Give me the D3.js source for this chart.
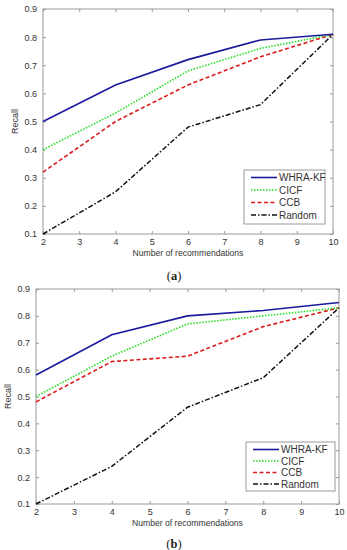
<!DOCTYPE html>
<html>
<head>
<meta charset="utf-8">
<script src="https://cdn.jsdelivr.net/npm/d3@7"></script>
<style>
  body { margin: 0; background: #fff; }
  svg text { font-family: "Liberation Sans", Arial, sans-serif; fill: #333; }
</style>
</head>
<body>
<svg id="chart" width="347" height="550"></svg>
<script>
var recs = [2, 4, 6, 8, 10];
var xTicks = [2, 3, 4, 5, 6, 7, 8, 9, 10];
var yTicks = [0.1, 0.2, 0.3, 0.4, 0.5, 0.6, 0.7, 0.8, 0.9];
var methods = ["WHRA-KF", "CICF", "CCB", "Random"];

// panel (a)
var whraA = [0.50, 0.63, 0.72, 0.79, 0.81];
var cicfA = [0.40, 0.53, 0.68, 0.76, 0.81];
var ccbA = [0.32, 0.50, 0.63, 0.73, 0.81];
var randomA = [0.10, 0.25, 0.48, 0.56, 0.81];

// panel (b)
var whraB = [0.58, 0.73, 0.80, 0.82, 0.85];
var cicfB = [0.50, 0.65, 0.77, 0.80, 0.83];
var ccbB = [0.48, 0.63, 0.65, 0.76, 0.83];
var randomB = [0.10, 0.24, 0.46, 0.57, 0.83];

var styles = {
  "WHRA-KF": { color: "#1a1a9c", dash: null, width: 1.6 },
  "CICF": { color: "#22e022", dash: "1.5,1.5", width: 1.6 },
  "CCB": { color: "#dd1a1a", dash: "4,2.5", width: 1.6 },
  "Random": { color: "#111", dash: "5,2,1.5,2", width: 1.5 }
};

var svg = d3.select("#chart");

function drawPanel(p) {
  var x = d3.scaleLinear().domain([2, 10]).range([p.left, p.right]);
  var y = d3.scaleLinear().domain([0.1, 0.9]).range([p.bottom, p.top]);
  var g = svg.append("g");

  g.append("rect")
    .attr("x", p.left).attr("y", p.top)
    .attr("width", p.right - p.left).attr("height", p.bottom - p.top)
    .attr("fill", "none").attr("stroke", "#9a9a9a").attr("stroke-width", 1);

  // inward ticks, MATLAB style, on all four sides
  g.append("g").attr("transform", "translate(0," + p.bottom + ")")
    .call(d3.axisBottom(x).tickValues(xTicks).tickSize(-3).tickPadding(5).tickFormat(d3.format("d")));
  g.append("g").attr("transform", "translate(0," + p.top + ")")
    .call(d3.axisTop(x).tickValues(xTicks).tickSize(-3).tickFormat(""));
  g.append("g").attr("transform", "translate(" + p.left + ",0)")
    .call(d3.axisLeft(y).tickValues(yTicks).tickSize(-3).tickPadding(6).tickFormat(d3.format(".1f")));
  g.append("g").attr("transform", "translate(" + p.right + ",0)")
    .call(d3.axisRight(y).tickValues(yTicks).tickSize(-3).tickFormat(""));

  g.selectAll(".domain").remove();
  g.selectAll(".tick line").attr("stroke", "#9a9a9a");
  g.selectAll(".tick text").style("font-size", "9px").attr("fill", "#333");

  var line = d3.line().x(function(d, i) { return x(recs[i]); }).y(function(d) { return y(d); });

  // draw back to front so WHRA-KF sits on top
  methods.slice().reverse().forEach(function(m) {
    var s = styles[m];
    g.append("path")
      .datum(p.series[m])
      .attr("d", line)
      .attr("fill", "none")
      .attr("stroke", s.color)
      .attr("stroke-width", s.width)
      .attr("stroke-dasharray", s.dash);
  });

  g.append("text")
    .attr("transform", "translate(" + p.ylabelX + "," + ((p.top + p.bottom) / 2) + ") rotate(-90)")
    .attr("text-anchor", "middle")
    .style("font-size", "9px")
    .text("Recall");

  g.append("text")
    .attr("x", (p.left + p.right) / 2).attr("y", p.bottom + 22)
    .attr("text-anchor", "middle")
    .style("font-size", "8.6px")
    .text("Number of recommendations");

  g.append("text")
    .attr("x", 174).attr("y", p.captionY)
    .attr("text-anchor", "middle")
    .style("font-family", "'Liberation Serif', 'Times New Roman', serif")
    .style("font-size", "12.5px")
    .style("fill", "#222")
    .html("(<tspan font-weight='bold'>" + p.caption + "</tspan>)");

  // legend
  var lg = p.legend;
  g.append("rect")
    .attr("x", lg.x).attr("y", lg.y).attr("width", lg.w).attr("height", lg.h)
    .attr("fill", "#fff").attr("stroke", "#9a9a9a").attr("stroke-width", 1);
  methods.forEach(function(m, i) {
    var s = styles[m];
    var ry = lg.y + 7.5 + i * lg.step;
    g.append("line")
      .attr("x1", lg.x + 7).attr("x2", lg.x + 33)
      .attr("y1", ry).attr("y2", ry)
      .attr("stroke", s.color).attr("stroke-width", s.width)
      .attr("stroke-dasharray", s.dash);
    g.append("text")
      .attr("x", lg.x + 35).attr("y", ry + 3.5)
      .style("font-size", "10px")
      .text(m);
  });
}

drawPanel({
  left: 43, right: 333, top: 9, bottom: 234, ylabelX: 18, captionY: 280, caption: "a",
  series: { "WHRA-KF": whraA, "CICF": cicfA, "CCB": ccbA, "Random": randomA },
  legend: { x: 244, y: 170, w: 81, h: 54, step: 12.5 }
});

drawPanel({
  left: 36, right: 339, top: 289, bottom: 504, ylabelX: 11, captionY: 548, caption: "b",
  series: { "WHRA-KF": whraB, "CICF": cicfB, "CCB": ccbB, "Random": randomB },
  legend: { x: 246, y: 442, w: 89, h: 49, step: 11.5 }
});
</script>
</body>
</html>
